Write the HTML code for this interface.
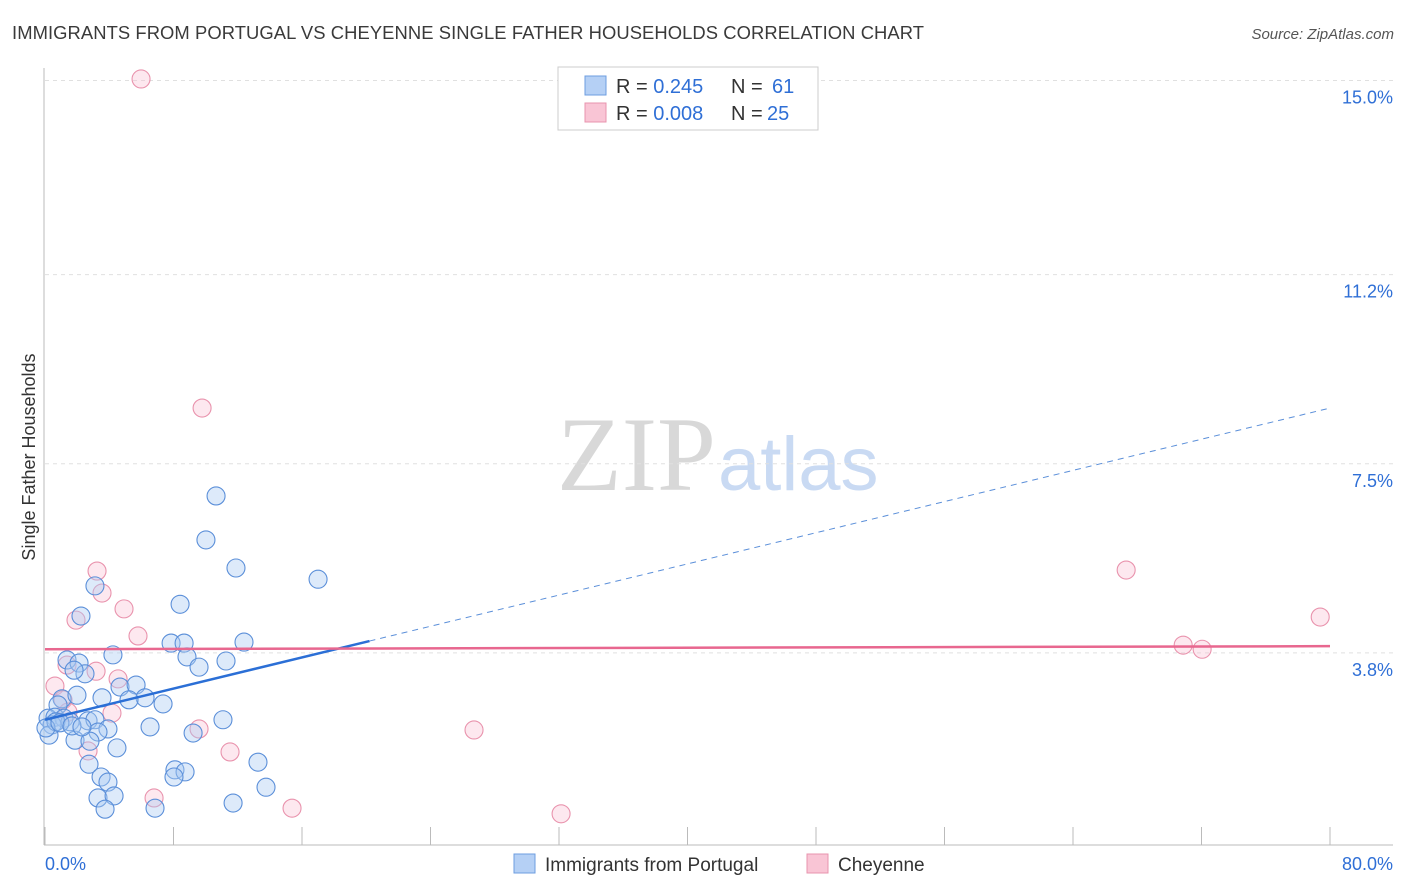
<!DOCTYPE html>
<html><head><meta charset="utf-8"><style>
body{margin:0;background:#fff;font-family:"Liberation Sans",sans-serif}
</style></head><body>
<svg id="c" width="1406" height="892" style="display:block">
<text x="12" y="39" font-size="18.4" fill="#3a3a3a" textLength="912">IMMIGRANTS FROM PORTUGAL VS CHEYENNE SINGLE FATHER HOUSEHOLDS CORRELATION CHART</text>
<text x="1394" y="39" font-size="15" fill="#555" font-style="italic" text-anchor="end">Source: ZipAtlas.com</text>
<text x="35" y="457" font-size="18" fill="#333" text-anchor="middle" transform="rotate(-90 35 457)">Single Father Households</text>
<text x="716" y="490" font-size="106" fill="#d8d8d8" text-anchor="end" font-family="Liberation Serif,serif">ZIP</text>
<text x="718" y="490" font-size="76" fill="#c9daf3">atlas</text>
<g id="grid"></g><g id="pts"></g><g id="lines"></g>
<g>
<rect x="558" y="67" width="260" height="63" fill="#fff" stroke="#ccc"/>
<rect x="585" y="76" width="21" height="19" fill="#b5d0f5" stroke="#6d9ee0"/>
<rect x="585" y="103" width="21" height="19" fill="#f9c5d5" stroke="#e894ae"/>
<text x="616" y="93" font-size="20" fill="#333">R = <tspan fill="#2f6fd6">0.245</tspan><tspan x="731">N = </tspan><tspan fill="#2f6fd6" x="772">61</tspan></text>
<text x="616" y="120" font-size="20" fill="#333">R = <tspan fill="#2f6fd6">0.008</tspan><tspan x="731">N = </tspan><tspan fill="#2f6fd6" x="767">25</tspan></text>
</g>
<g>
<rect x="514" y="854" width="21" height="19" fill="#b5d0f5" stroke="#6d9ee0"/>
<text x="545" y="871" font-size="19" fill="#333">Immigrants from Portugal</text>
<rect x="807" y="854" width="21" height="19" fill="#f9c5d5" stroke="#e894ae"/>
<text x="838" y="871" font-size="19" fill="#333">Cheyenne</text>
</g>
</svg>
<script>
const yTicks=[3.8,7.5,11.2,15.0];
const xTickVals=[0,8,16,24,32,40,48,56,64,72,80];
const blueX=[3.11,2.24,8.41,10.65,10.02,11.89,17.0,7.85,8.66,12.39,4.23,8.84,9.59,11.27,1.37,2.12,2.49,1.81,4.67,5.67,1.06,1.99,3.55,6.23,5.23,7.35,0.81,0.19,0.62,1.18,1.56,2.68,3.11,3.92,6.54,11.08,9.22,0.44,0.25,0.68,3.30,1.87,2.80,4.48,2.74,13.26,3.49,8.09,8.72,3.92,8.03,3.30,4.30,3.74,6.85,11.71,13.76,0.06,0.93,1.68,2.30];
const blueY=[5.11,4.52,4.75,6.87,6.01,5.46,5.24,3.99,3.99,4.01,3.76,3.72,3.52,3.64,3.66,3.60,3.39,3.46,3.13,3.17,2.90,2.97,2.92,2.92,2.88,2.80,2.78,2.52,2.54,2.52,2.45,2.47,2.49,2.31,2.35,2.49,2.23,2.39,2.19,2.45,2.25,2.09,2.07,1.94,1.62,1.66,1.37,1.51,1.47,1.27,1.37,0.96,1.00,0.74,0.76,0.86,1.17,2.33,2.43,2.37,2.35];
const pinkX=[5.98,9.78,3.24,3.55,4.92,1.93,5.79,1.37,3.18,4.55,0.62,1.12,4.17,1.43,9.59,11.52,2.68,6.79,15.38,26.71,32.13,67.31,70.86,72.04,79.39];
const pinkY=[15.03,8.59,5.40,4.97,4.66,4.44,4.13,3.56,3.44,3.29,3.15,2.88,2.62,2.64,2.31,1.86,1.88,0.96,0.76,2.29,0.65,5.42,3.95,3.87,4.50];
const blueTrend=[2.49,8.59];
const pinkTrend=[3.87,3.93];
const NS='http://www.w3.org/2000/svg';
const X=v=>45+v*(1285/80), Y=v=>847-v*51.1;
function mk(t,a,p){const e=document.createElementNS(NS,t);for(const k in a)e.setAttribute(k,a[k]);p.appendChild(e);return e;}
const g=document.getElementById('grid');
yTicks.forEach(t=>{const l=mk('line',{x1:45,x2:1393,y1:Y(t),y2:Y(t),stroke:'#e0e0e0','stroke-dasharray':'4,4'},g);


const tx=mk('text',{x:1393,y:Y(t)+23,'font-size':18,fill:'#2f6fd6','text-anchor':'end'},g);tx.textContent=t.toFixed(1)+'%';

});
const ax=mk('line',{x1:44,x2:44,y1:68,y2:845,stroke:'#bbb'},g);


const bx=mk('line',{x1:44,x2:1393,y1:845,y2:845,stroke:'#bbb'},g);


xTickVals.forEach(t=>{const l=mk('line',{x1:X(t),x2:X(t),y1:827,y2:845,stroke:'#bbb'},g);

});
[[0,'start',45],[80,'end',1393]].forEach(([v,a,x])=>{const tx=mk('text',{x:x,y:870,'font-size':18,fill:'#2f6fd6','text-anchor':a},g);tx.textContent=v.toFixed(1)+'%';

});
const p=document.getElementById('pts');
pinkX.forEach((x,i)=>{const c=mk('circle',{cx:X(x),cy:Y(pinkY[i]),r:9,fill:'rgba(248,190,208,0.35)',stroke:'#e993ad','stroke-width':1.1},p);

});
blueX.forEach((x,i)=>{const c=mk('circle',{cx:X(x),cy:Y(blueY[i]),r:9,fill:'rgba(170,202,242,0.4)',stroke:'#5b8fd9','stroke-width':1.1},p);

});
const L=document.getElementById('lines');
const by=x=>blueTrend[0]+(blueTrend[1]-blueTrend[0])*x/80;
const b1=mk('line',{x1:X(0),y1:Y(by(0)),x2:X(20.2),y2:Y(by(20.2)),stroke:'#2b6fd6','stroke-width':2.5},L);


const b2=mk('line',{x1:X(20.2),y1:Y(by(20.2)),x2:X(80),y2:Y(by(80)),stroke:'#5b8fd9','stroke-width':1,'stroke-dasharray':'6,5'},L);


const pl=mk('line',{x1:X(0),y1:Y(pinkTrend[0]),x2:X(80),y2:Y(pinkTrend[1]),stroke:'#e8678f','stroke-width':2.5},L);


</script>
</body></html>
